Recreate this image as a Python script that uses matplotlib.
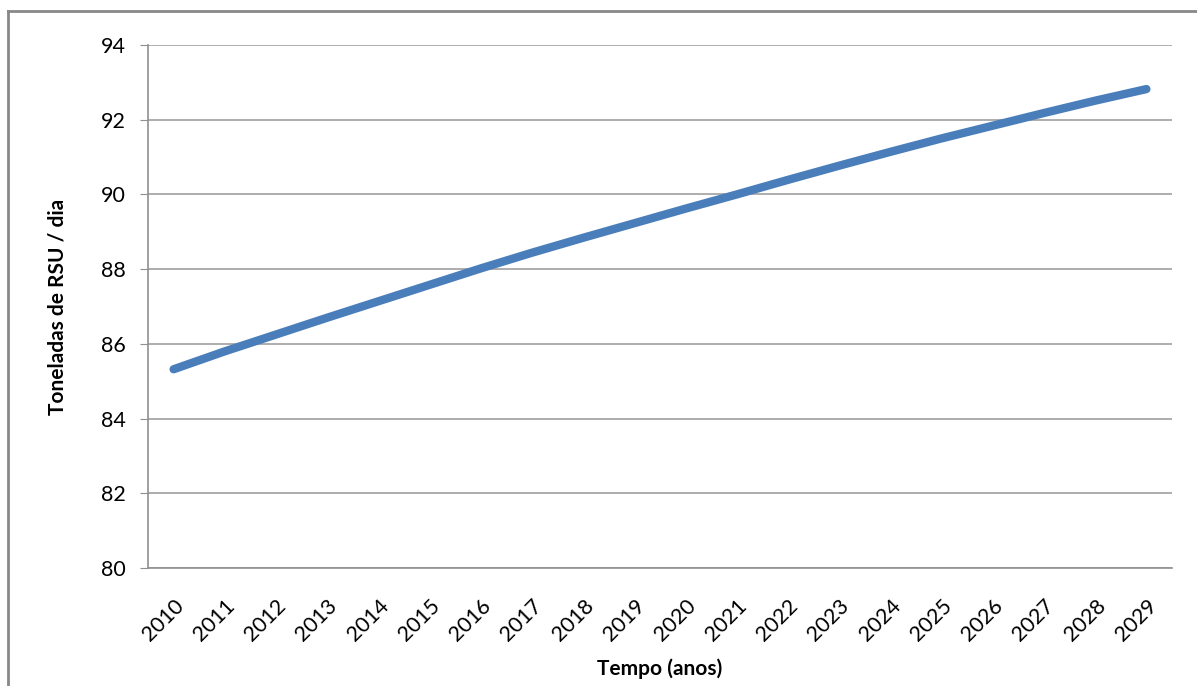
import matplotlib.pyplot as plt
from matplotlib.lines import Line2D

anos = ['2010', '2011', '2012', '2013', '2014', '2015', '2016', '2017', '2018', '2019',
        '2020', '2021', '2022', '2023', '2024', '2025', '2026', '2027', '2028', '2029']
toneladas = [85.32, 85.80, 86.25, 86.70, 87.14, 87.58, 88.02, 88.44, 88.84, 89.23,
             89.62, 90.00, 90.39, 90.77, 91.14, 91.50, 91.84, 92.18, 92.51, 92.82]
y_ticks = [80, 82, 84, 86, 88, 90, 92, 94]

plt.rcParams['font.family'] = ['Lato', 'DejaVu Sans']

fig = plt.figure(figsize=(11.97, 6.86), dpi=100)
ax = fig.add_axes([148/1197, 1 - 568/686, (1172 - 148)/1197, (568 - 45)/686])

x = list(range(len(anos)))
ax.plot(x, toneladas, color='#4a7ebb', linewidth=6, solid_capstyle='round', zorder=3)

ax.set_xlim(-0.5, len(anos) - 0.5)
ax.set_ylim(80, 94)
ax.set_yticks(y_ticks)
ax.set_xticks(x)
ax.set_xticklabels(anos, rotation=45, ha='right', rotation_mode='anchor')
ax.grid(axis='y', color='#a0a0a0', linewidth=1.2)
ax.set_axisbelow(True)

for s in ['top', 'right']:
    ax.spines[s].set_visible(False)
for s in ['left', 'bottom']:
    ax.spines[s].set_color('#909090')
    ax.spines[s].set_linewidth(1.2)
ax.tick_params(axis='y', length=6, color='#909090', labelsize=15.5, pad=10)
ax.tick_params(axis='x', length=0, labelsize=15.5, pad=20)

ax.set_xlabel('Tempo (anos)', fontsize=15, fontweight='bold', labelpad=10)
ax.set_ylabel('Toneladas de RSU / dia', fontsize=15, fontweight='bold', labelpad=24)

# moldura do gráfico
fig.add_artist(Line2D([8/1197, 8/1197], [0, 1 - 11/686], transform=fig.transFigure,
                      color='#888888', linewidth=2))
fig.add_artist(Line2D([8/1197, 1], [1 - 11/686, 1 - 11/686], transform=fig.transFigure,
                      color='#888888', linewidth=2))

fig.savefig('out.png', dpi=100)
